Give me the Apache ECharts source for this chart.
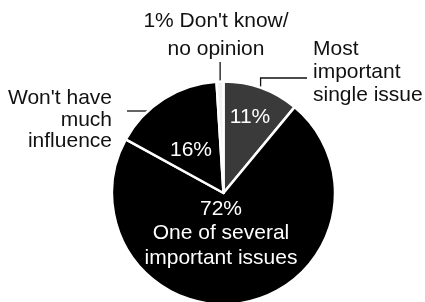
<!DOCTYPE html>
<html>
<head>
<meta charset="utf-8">
<script src="https://cdn.jsdelivr.net/npm/echarts@6/dist/echarts.min.js"></script>
<style>
  html, body { margin: 0; padding: 0; background: #fff; }
  #chart { width: 425px; height: 302px; }
</style>
</head>
<body>
<div id="chart"></div>
<script>
// slices, clockwise from 12 o'clock
const categories = ['Most important single issue', 'One of several important issues', "Won't have much influence", "Don't know/no opinion"];
const values = [11, 72, 16, 1];
const insideText = ['{p}', '{p}\nOne of several\nimportant issues', '{p}', ''];
const outsideText = ['Most\nimportant\nsingle issue', '', "Won't have\nmuch\ninfluence", "{p} Don't know/\nno opinion"];

const cx = 223.5, cy = 193, R = 111.5;
const FONT = "'Liberation Sans', Arial, Helvetica, sans-serif";

const total = values.reduce((a, b) => a + b, 0);
// mid angle of each slice in degrees, clockwise from top
const midAngles = values.map((v, i) => {
  const before = values.slice(0, i).reduce((a, b) => a + b, 0);
  return (before + v / 2) / total * 360;
});
function edgePoint(deg, r) {
  const a = deg * Math.PI / 180;
  return [cx + r * Math.sin(a), cy - r * Math.cos(a)];
}

const chart = echarts.init(document.getElementById('chart'));

const colors = ['#3a3a3a', '#000000', '#000000', '#f2f2f2'];
const fmt = (tpl, i) => tpl.replace('{p}', values[i] + '%');

// inside label spots
const insidePos = [[250, 117.5], [221, 233.5], [191, 150.3], null];
// outside label spots
const outsidePos = [
  {x: 313, y: 72.7, align: 'left', lh: 23},
  null,
  {x: 112, y: 120, align: 'right', lh: 21.5},
  {x: 216, y: 35.7, align: 'center', lh: 28}
];

function leader(i) {
  if (i === 0) {
    const p = edgePoint(midAngles[0], R - 2);
    return [p, [p[0], 78], [307, 78]];
  }
  if (i === 2) {
    const y = 111;
    const x = cx - Math.sqrt((R - 2) * (R - 2) - (cy - y) * (cy - y));
    return [[x, y], [(x + 127) / 2, y], [127, y]];
  }
  if (i === 3) {
    const p = edgePoint(midAngles[3], R - 4);
    return [p, [p[0], (p[1] + 62) / 2], [p[0], 62]];
  }
  return null;
}

chart.setOption({
  animation: false,
  series: [
    {
      type: 'pie',
      silent: true,
      center: [cx, cy],
      radius: R,
      startAngle: 90,
      clockwise: true,
      avoidLabelOverlap: false,
      itemStyle: {borderColor: '#ffffff', borderWidth: 2.5},
      label: {
        show: true,
        position: 'inside',
        color: '#ffffff',
        fontFamily: FONT,
        fontSize: 21,
        lineHeight: 24.5,
        formatter: (p) => fmt(insideText[p.dataIndex], p.dataIndex)
      },
      labelLine: {show: false},
      labelLayout: (p) => {
        const pos = insidePos[p.dataIndex];
        if (!pos) return {};
        return {x: pos[0], y: pos[1], align: 'center', verticalAlign: 'middle'};
      },
      data: values.map((v, i) => ({
        name: categories[i],
        value: v,
        itemStyle: {color: colors[i]}
      }))
    },
    {
      type: 'pie',
      silent: true,
      center: [cx, cy],
      radius: R,
      startAngle: 90,
      clockwise: true,
      avoidLabelOverlap: false,
      itemStyle: {color: 'rgba(0,0,0,0)', borderWidth: 0},
      label: {
        show: true,
        position: 'outside',
        color: '#111111',
        fontFamily: FONT,
        fontSize: 21
      },
      labelLine: {show: true, length: 10, length2: 10, lineStyle: {color: '#111111', width: 1.3}},
      labelLayout: (p) => {
        const pos = outsidePos[p.dataIndex];
        if (!pos) return {};
        return {
          x: pos.x, y: pos.y, align: pos.align, verticalAlign: 'middle',
          labelLinePoints: leader(p.dataIndex)
        };
      },
      data: values.map((v, i) => ({
        name: categories[i],
        value: v,
        label: outsidePos[i]
          ? {formatter: fmt(outsideText[i], i), lineHeight: outsidePos[i].lh, align: outsidePos[i].align}
          : {show: false},
        labelLine: {show: !!outsidePos[i]}
      }))
    }
  ]
});
</script>
</body>
</html>
